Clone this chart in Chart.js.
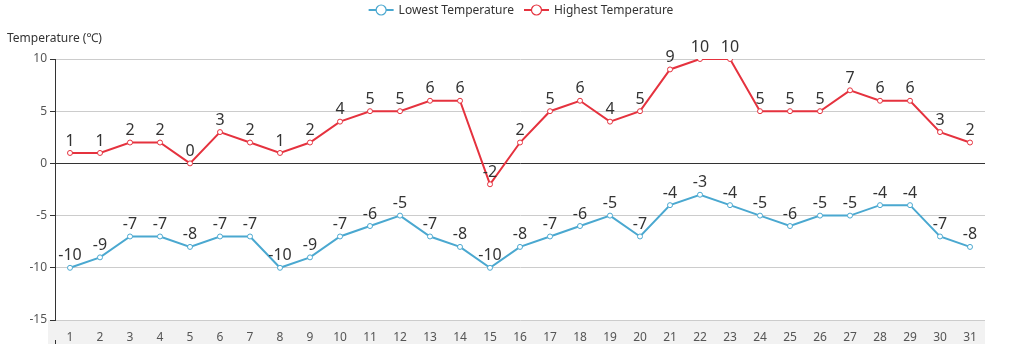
<!DOCTYPE html>
<html>
<head>
<meta charset="utf-8">
<script src="https://cdn.jsdelivr.net/npm/chart.js@4/dist/chart.umd.min.js"></script>
<style>
  html, body { margin: 0; padding: 0; background: #fff; }
  #wrap { width: 1012px; height: 344px; }
</style>
</head>
<body>
<div id="wrap"><canvas id="myChart" width="1012" height="344"></canvas></div>
<script>
const days = ['1','2','3','4','5','6','7','8','9','10','11','12','13','14','15','16','17','18','19','20','21','22','23','24','25','26','27','28','29','30','31'];
const lowTemps = [-10, -9, -7, -7, -8, -7, -7, -10, -9, -7, -6, -5, -7, -8, -10, -8, -7, -6, -5, -7, -4, -3, -4, -5, -6, -5, -5, -4, -4, -7, -8];
const highTemps = [1, 1, 2, 2, 0, 3, 2, 1, 2, 4, 5, 5, 6, 6, -2, 2, 5, 6, 4, 5, 9, 10, 10, 5, 5, 5, 7, 6, 6, 3, 2];
const yTicks = [10, 5, 0, -5, -10, -15];

const FONT = '"Noto Sans", "Open Sans", sans-serif';
const BLUE = '#4aa8d0';
const RED = '#e5323e';

// draws the grey band under the x axis, the axis title, the legend and the value labels
const extras = {
    id: 'extras',
    beforeDraw(chart) {
        const c = chart.ctx;
        const area = chart.chartArea;
        c.save();
        c.fillStyle = '#f2f2f2';
        c.fillRect(48, area.bottom, area.right - 48, chart.height - area.bottom);
        c.restore();
    },
    afterDatasetsDraw(chart) {
        const c = chart.ctx;
        const area = chart.chartArea;
        c.save();

        // y axis title
        c.font = '12px ' + FONT;
        c.fillStyle = '#333';
        c.textAlign = 'left';
        c.textBaseline = 'middle';
        c.fillText('Temperature (\u2103)', 7, 39);

        // small tick under the axis band
        c.strokeStyle = '#333';
        c.lineWidth = 1;
        c.beginPath();
        c.moveTo(area.left + 0.5, chart.height - 4);
        c.lineTo(area.left + 0.5, chart.height);
        c.stroke();

        // legend
        const items = [
            { text: 'Lowest Temperature', color: BLUE },
            { text: 'Highest Temperature', color: RED }
        ];
        c.font = '12px ' + FONT;
        const iconW = 25, gapIcon = 5, gapItem = 10;
        let total = 0;
        items.forEach((it, i) => {
            it.w = c.measureText(it.text).width;
            total += iconW + gapIcon + it.w + (i ? gapItem : 0);
        });
        let x = chart.width / 2 + 15 - total / 2;
        const ly = 10;
        items.forEach((it, i) => {
            if (i) x += gapItem;
            c.strokeStyle = it.color;
            c.lineWidth = 2;
            c.beginPath();
            c.moveTo(x, ly);
            c.lineTo(x + iconW, ly);
            c.stroke();
            c.beginPath();
            c.arc(x + iconW / 2, ly, 5, 0, Math.PI * 2);
            c.fillStyle = '#fff';
            c.fill();
            c.lineWidth = 1.2;
            c.stroke();
            x += iconW + gapIcon;
            c.fillStyle = '#333';
            c.textAlign = 'left';
            c.fillText(it.text, x, ly + 1);
            x += it.w;
        });

        // value labels above points
        c.font = '16px ' + FONT;
        c.fillStyle = '#333';
        c.textAlign = 'center';
        c.textBaseline = 'bottom';
        chart.data.datasets.forEach((ds, di) => {
            const meta = chart.getDatasetMeta(di);
            meta.data.forEach((pt, i) => {
                c.fillText(String(ds.data[i]), pt.x, pt.y - 4);
            });
        });
        c.restore();
    }
};

const ctx = document.getElementById('myChart').getContext('2d');
window.myChart = new Chart(ctx, {
    type: 'line',
    data: {
        labels: days,
        datasets: [{
            label: 'Lowest Temperature',
            data: lowTemps,
            borderColor: BLUE,
            backgroundColor: '#fff',
            borderWidth: 2,
            pointRadius: 2.5,
            pointBorderWidth: 1,
            pointBackgroundColor: '#fff',
            pointBorderColor: BLUE,
            tension: 0
        }, {
            label: 'Highest Temperature',
            data: highTemps,
            borderColor: RED,
            backgroundColor: '#fff',
            borderWidth: 2,
            pointRadius: 2.5,
            pointBorderWidth: 1,
            pointBackgroundColor: '#fff',
            pointBorderColor: RED,
            tension: 0
        }]
    },
    options: {
        responsive: false,
        animation: false,
        layout: {
            padding: { top: 59, right: 27, left: 0, bottom: 0 }
        },
        scales: {
            x: {
                offset: true,
                grid: { display: false },
                border: { display: false },
                ticks: {
                    color: '#555',
                    font: { size: 12, family: FONT },
                    padding: 2,
                    maxRotation: 0,
                    autoSkip: false
                },
                afterFit(scale) { scale.height = 24; }
            },
            y: {
                min: -15,
                max: 10,
                afterBuildTicks(scale) {
                    scale.ticks = yTicks.map(v => ({ value: v }));
                },
                grid: {
                    color: c => (c.tick && c.tick.value === 0) ? '#333' : '#ccc',
                    tickColor: '#333',
                    tickLength: 5
                },
                border: { display: true, color: '#333', width: 1 },
                ticks: {
                    color: '#555',
                    font: { size: 12, family: FONT },
                    padding: 3
                },
                afterFit(scale) { scale.width = 55; }
            }
        },
        plugins: {
            legend: { display: false },
            tooltip: { enabled: false }
        }
    },
    plugins: [extras]
});
</script>
</body>
</html>
